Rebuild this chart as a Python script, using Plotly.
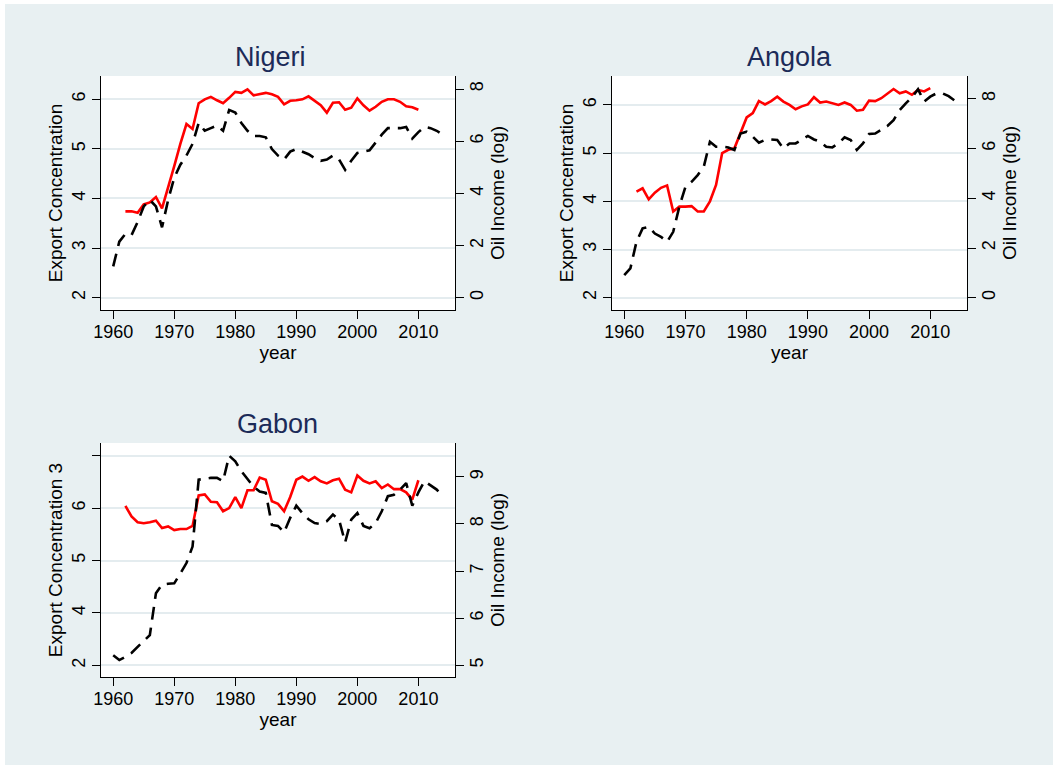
import plotly.graph_objects as go

W, H = 1053, 765

years_full = list(range(1960, 2015))
years_ec = list(range(1962, 2011))

# Nigeri
nig_ec = [3.74, 3.74, 3.71, 3.88, 3.92, 4.03, 3.80, 4.20, 4.65, 5.10, 5.50, 5.40, 5.92,
          6.00, 6.05, 5.98, 5.92, 6.03, 6.15, 6.13, 6.20, 6.08, 6.10, 6.13, 6.10, 6.05,
          5.90, 5.97, 5.98, 6.00, 6.06, 5.97, 5.88, 5.73, 5.93, 5.94, 5.79, 5.83, 6.02,
          5.88, 5.77, 5.85, 5.95, 6.00, 6.00, 5.95, 5.86, 5.84, 5.79]
nig_oil = [1.20, 2.15, 2.45, 2.40, 2.90, 3.50, 3.75, 3.50, 2.70, 3.75, 4.60, 5.10, 5.45,
           5.90, 6.70, 6.40, 6.50, 6.60, 6.40, 7.20, 7.10, 6.70, 6.40, 6.20, 6.20, 6.15,
           5.70, 5.45, 5.30, 5.60, 5.70, 5.60, 5.50, 5.35, 5.25, 5.30, 5.45, 5.30, 4.90,
           5.25, 5.55, 5.60, 5.65, 5.95, 6.25, 6.50, 6.50, 6.50, 6.55, 6.10, 6.35, 6.55,
           6.50, 6.40, 6.25]

# Angola
ang_ec = [4.20, 4.27, 4.04, 4.18, 4.28, 4.33, 3.79, 3.89, 3.89, 3.90, 3.79, 3.79, 4.00,
          4.34, 5.00, 5.07, 5.10, 5.40, 5.74, 5.83, 6.08, 6.01, 6.08, 6.17, 6.07, 6.00,
          5.91, 5.97, 6.01, 6.16, 6.05, 6.07, 6.03, 6.00, 6.05, 6.00, 5.88, 5.90, 6.09,
          6.08, 6.14, 6.24, 6.33, 6.24, 6.28, 6.21, 6.31, 6.28, 6.35]
ang_oil = [0.91, 1.18, 2.25, 2.79, 2.85, 2.58, 2.45, 2.25, 2.65, 3.66, 4.46, 4.66, 4.93,
           5.27, 6.27, 6.07, 6.07, 6.04, 5.94, 6.60, 6.67, 6.47, 6.23, 6.34, 6.36, 6.34,
           6.00, 6.20, 6.20, 6.34, 6.50, 6.36, 6.27, 6.07, 6.04, 6.20, 6.45, 6.34, 5.94,
           6.20, 6.58, 6.60, 6.74, 6.90, 7.14, 7.54, 7.81, 8.05, 8.38, 7.88, 8.08, 8.21,
           8.21, 8.10, 7.92]

# Gabon
gab_ec = [6.04, 5.84, 5.73, 5.71, 5.73, 5.76, 5.62, 5.65, 5.58, 5.60, 5.60, 5.66, 6.24,
          6.26, 6.12, 6.11, 5.94, 6.00, 6.21, 6.00, 6.34, 6.34, 6.58, 6.54, 6.13, 6.08,
          5.94, 6.21, 6.54, 6.60, 6.52, 6.59, 6.51, 6.47, 6.53, 6.56, 6.35, 6.30, 6.62,
          6.52, 6.47, 6.51, 6.38, 6.45, 6.36, 6.36, 6.30, 6.16, 6.53]
gab_oil = [5.21, 5.11, 5.18, 5.26, 5.39, 5.52, 5.64, 6.53, 6.71, 6.73, 6.74, 6.95, 7.17,
           7.52, 8.94, 8.96, 8.98, 8.98, 8.91, 9.45, 9.33, 9.12, 8.96, 8.79, 8.69, 8.66,
           7.98, 7.96, 7.82, 8.13, 8.39, 8.23, 8.10, 8.02, 8.00, 8.06, 8.20, 8.09, 7.61,
           8.09, 8.23, 7.96, 7.91, 8.02, 8.27, 8.59, 8.62, 8.73, 8.87, 8.39, 8.67, 8.91,
           8.82, 8.73, 8.59]

x_ticks = [1960, 1970, 1980, 1990, 2000, 2010]
gab_left_tickvals = [3, 4, 5, 6, 7]
gab_left_ticktext = ["2", "4", "5", "6", ""]

BG = "#E8F0F2"
GRID = "#E4ECEF"
NAVY = "#1C2B58"
FONT = "Liberation Sans, Arial, sans-serif"
RED = "#FF0000"

panels = [
    dict(name="Nigeri", ec=nig_ec, oil=nig_oil, ytitle="Export Concentration",
         xpx=(101, 455), ypx=(76, 310), lrange=[1.75, 6.47], rrange=[-0.47, 8.5],
         ltv=[2, 3, 4, 5, 6], ltt=None, rtv=[0, 2, 4, 6, 8],
         title_xy=(270, 57)),
    dict(name="Angola", ec=ang_ec, oil=ang_oil, ytitle="Export Concentration",
         xpx=(612, 967), ypx=(76, 310), lrange=[1.745, 6.6], rrange=[-0.49, 8.91],
         ltv=[2, 3, 4, 5, 6], ltt=None, rtv=[0, 2, 4, 6, 8],
         title_xy=(789, 57)),
    dict(name="Gabon", ec=gab_ec, oil=gab_oil, ytitle="Export Concentration 3",
         xpx=(101, 455), ypx=(443, 677), lrange=[2.78, 7.24], rrange=[4.75, 9.72],
         ltv=gab_left_tickvals, ltt=gab_left_ticktext, rtv=[5, 6, 7, 8, 9],
         title_xy=(277, 424)),
]

fig = go.Figure()
layout = dict(
    width=W, height=H, margin=dict(l=0, r=0, t=0, b=0, autoexpand=False),
    paper_bgcolor=BG, plot_bgcolor="white", showlegend=False,
    font=dict(family=FONT, color="black", size=18),
    annotations=[], shapes=[],
)

tickfont = dict(family=FONT, size=18, color="black")
titlefont = dict(family=FONT, size=19, color="black")

for i, p in enumerate(panels):
    xi = i + 1
    yl = 2 * i + 1
    yr = 2 * i + 2
    xname = "x" if xi == 1 else f"x{xi}"
    ylname = "y" if yl == 1 else f"y{yl}"
    yrname = f"y{yr}"
    xdom = [p["xpx"][0] / W, p["xpx"][1] / W]
    ydom = [1 - p["ypx"][1] / H, 1 - p["ypx"][0] / H]

    fig.add_trace(go.Scatter(x=years_ec, y=p["ec"], mode="lines",
                             line=dict(color=RED, width=2.6),
                             xaxis=xname, yaxis=ylname))
    fig.add_trace(go.Scatter(x=years_full, y=p["oil"], mode="lines",
                             line=dict(color="black", width=2.6, dash="13px,8px"),
                             xaxis=xname, yaxis=yrname))

    layout["xaxis" if xi == 1 else f"xaxis{xi}"] = dict(
        domain=xdom, anchor=ylname, range=[1958, 2016], automargin=False,
        tickvals=x_ticks, ticks="outside", ticklen=8, tickcolor="black",
        showline=True, linecolor="black", linewidth=1, showgrid=False,
        zeroline=False, tickfont=tickfont, tickangle=0, ticklabelstandoff=-3,
        title=dict(text="year", font=titlefont, standoff=0),
    )
    yl_axis = dict(
        domain=ydom, anchor=xname, range=p["lrange"], tickvals=p["ltv"],
        automargin=False,
        ticks="outside", ticklen=8, tickcolor="black",
        showline=True, linecolor="black", linewidth=1,
        showgrid=True, gridcolor=GRID, gridwidth=1.5, zeroline=False,
        tickfont=tickfont, tickangle=-90,
        title=dict(text=p["ytitle"], font=titlefont, standoff=1),
    )
    if p["ltt"] is not None:
        yl_axis["ticktext"] = p["ltt"]
    layout["yaxis" if yl == 1 else f"yaxis{yl}"] = yl_axis
    layout[f"yaxis{yr}"] = dict(
        domain=ydom, anchor=xname, overlaying=ylname, side="right",
        range=p["rrange"], tickvals=p["rtv"], automargin=False,
        ticks="outside", ticklen=8, tickcolor="black",
        showline=True, linecolor="black", linewidth=1,
        showgrid=False, zeroline=False,
        tickfont=tickfont, tickangle=-90, ticklabelstandoff=-3,
        title=dict(text="Oil Income (log)", font=titlefont, standoff=2),
    )
    layout["annotations"].append(dict(
        text=p["name"], xref="paper", yref="paper",
        x=p["title_xy"][0] / W, y=1 - p["title_xy"][1] / H,
        xanchor="center", yanchor="middle", showarrow=False,
        font=dict(family=FONT, size=27, color=NAVY),
    ))

# white page edge above and left of the graph region
layout["shapes"] = [
    dict(type="rect", xref="paper", yref="paper", x0=0, x1=1, y0=1 - 4 / H, y1=1,
         fillcolor="white", line=dict(width=0), layer="above"),
    dict(type="rect", xref="paper", yref="paper", x0=0, x1=5 / W, y0=0, y1=1,
         fillcolor="white", line=dict(width=0), layer="above"),
]

fig.update_layout(**layout)
fig.write_html("out.html", config={"displayModeBar": False},
               post_script="document.body.style.margin='0';"
                           "document.documentElement.style.overflow='hidden';")
